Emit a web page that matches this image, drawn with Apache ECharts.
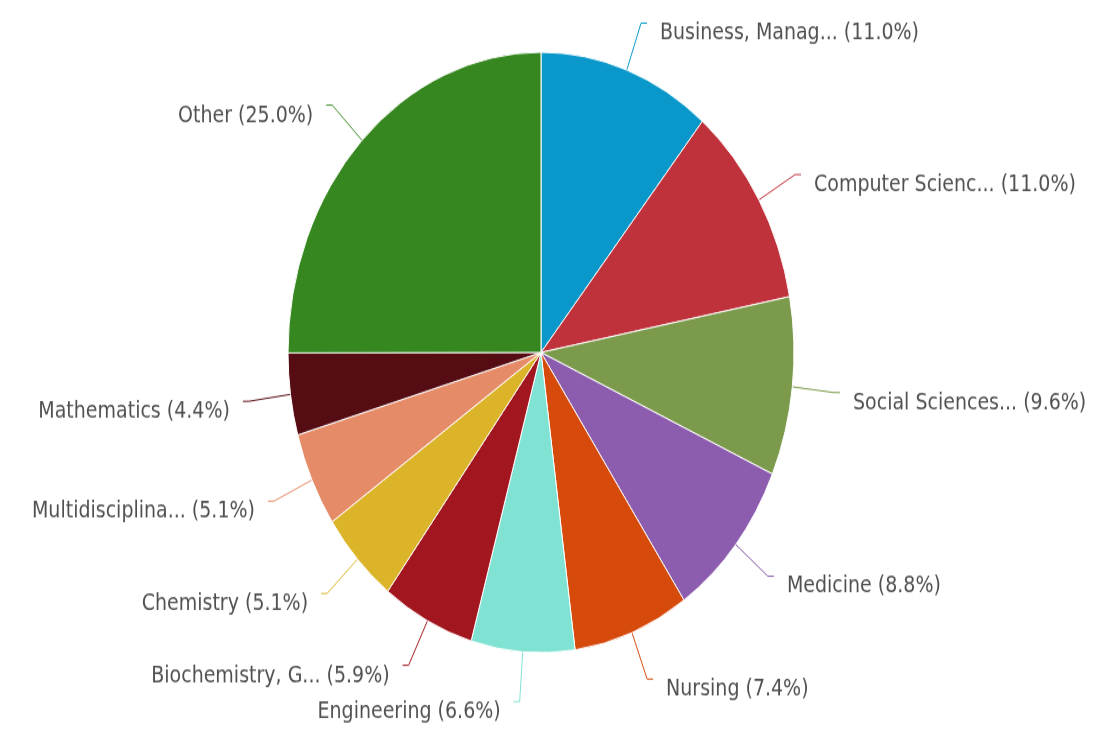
<!DOCTYPE html>
<html>
<head>
<meta charset="utf-8">
<script src="https://cdn.jsdelivr.net/npm/echarts@6/dist/echarts.min.js"></script>
<style>
  html, body { margin: 0; padding: 0; background: #fff; overflow: hidden; }
  #wrap { width: 1107px; height: 731px; overflow: hidden; }
  /* the reference is stretched vertically, so the chart is drawn flat and scaled */
  #chart { width: 1107px; height: 616px; transform: scaleY(1.1867); transform-origin: 0 0; }
</style>
</head>
<body>
<div id="wrap"><div id="chart"></div></div>
<script>
const categories = [
  'Business, Manag...',
  'Computer Scienc...',
  'Social Sciences...',
  'Medicine',
  'Nursing',
  'Engineering',
  'Biochemistry, G...',
  'Chemistry',
  'Multidisciplina...',
  'Mathematics',
  'Other'
]
const shares = [11.0, 11.0, 9.6, 8.8, 7.4, 6.6, 5.9, 5.1, 5.1, 4.4, 25.0]
const colors = [
  '#0a98cb', '#c0323b', '#7b9a4b', '#8c5caf', '#d64a0c', '#7fe2d2',
  '#a1161f', '#dcb42a', '#e68b67', '#560c13', '#36871f'
]

const chart = echarts.init(document.getElementById('chart'))

chart.setOption({
  animation: false,
  series: [
    {
      type: 'pie',
      center: [541, 297],
      radius: 253,
      startAngle: 90,
      clockwise: true,
      avoidLabelOverlap: true,
      itemStyle: {
        borderColor: '#ffffff',
        borderWidth: 1
      },
      label: {
        color: '#505050',
        fontFamily: 'DejaVu Sans',
        fontSize: 19,
        padding: [0, 8, 0, 8],
        formatter: p => p.name + ' (' + p.value.toFixed(1) + '%)'
      },
      labelLine: {
        length: 42,
        length2: 6,
        lineStyle: { width: 1 }
      },
      // text sits a little below the end of its line
      labelLayout: () => ({ dy: 9 }),
      data: categories.map((name, i) => ({
        name: name,
        value: shares[i],
        itemStyle: { color: colors[i] },
        labelLine: { lineStyle: { color: colors[i] } }
      }))
    }
  ]
})
</script>
</body>
</html>
